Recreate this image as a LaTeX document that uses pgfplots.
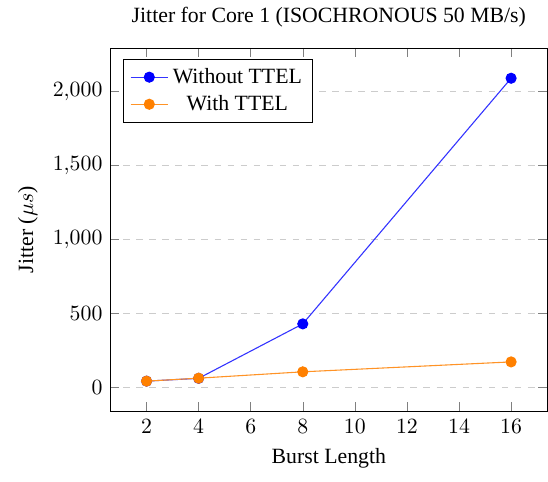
\documentclass[border=0pt]{standalone}
\usepackage{pgfplots}
\pgfplotsset{compat=1.18}
\usepackage{fontspec}
\setmainfont{Liberation Serif}
\begin{document}
\begin{tikzpicture}
\begin{axis}[
  scale only axis,
  width=201pt, height=167pt,
  title={Jitter for Core 1 (ISOCHRONOUS 50 MB/s)},
  xlabel={Burst Length},
  ylabel={Jitter ($\mu s$)},
  xtick={2,4,6,8,10,12,14,16},
  ytick={0,500,1000,1500,2000},
  ymajorgrids,
  grid style={dashed, gray!40},
  legend pos=north west,
  legend cell align=center,
  legend style={font=\normalsize},
]
\addplot[blue!80, mark=*, mark size=2.3pt, mark options={solid, fill=blue, draw=blue}, line width=0.5pt] coordinates {
  (2,43) (4,62) (8,430) (16,2090)
};
\addlegendentry{Without TTEL}
\addplot[orange!85, mark=*, mark size=2.3pt, mark options={solid, fill=orange, draw=orange}, line width=0.5pt] coordinates {
  (2,43) (4,63) (8,106) (16,173)
};
\addlegendentry{With TTEL}
\end{axis}
\path ([xshift=-5pt,yshift=-3pt]current bounding box.south west);
\end{tikzpicture}
\end{document}
